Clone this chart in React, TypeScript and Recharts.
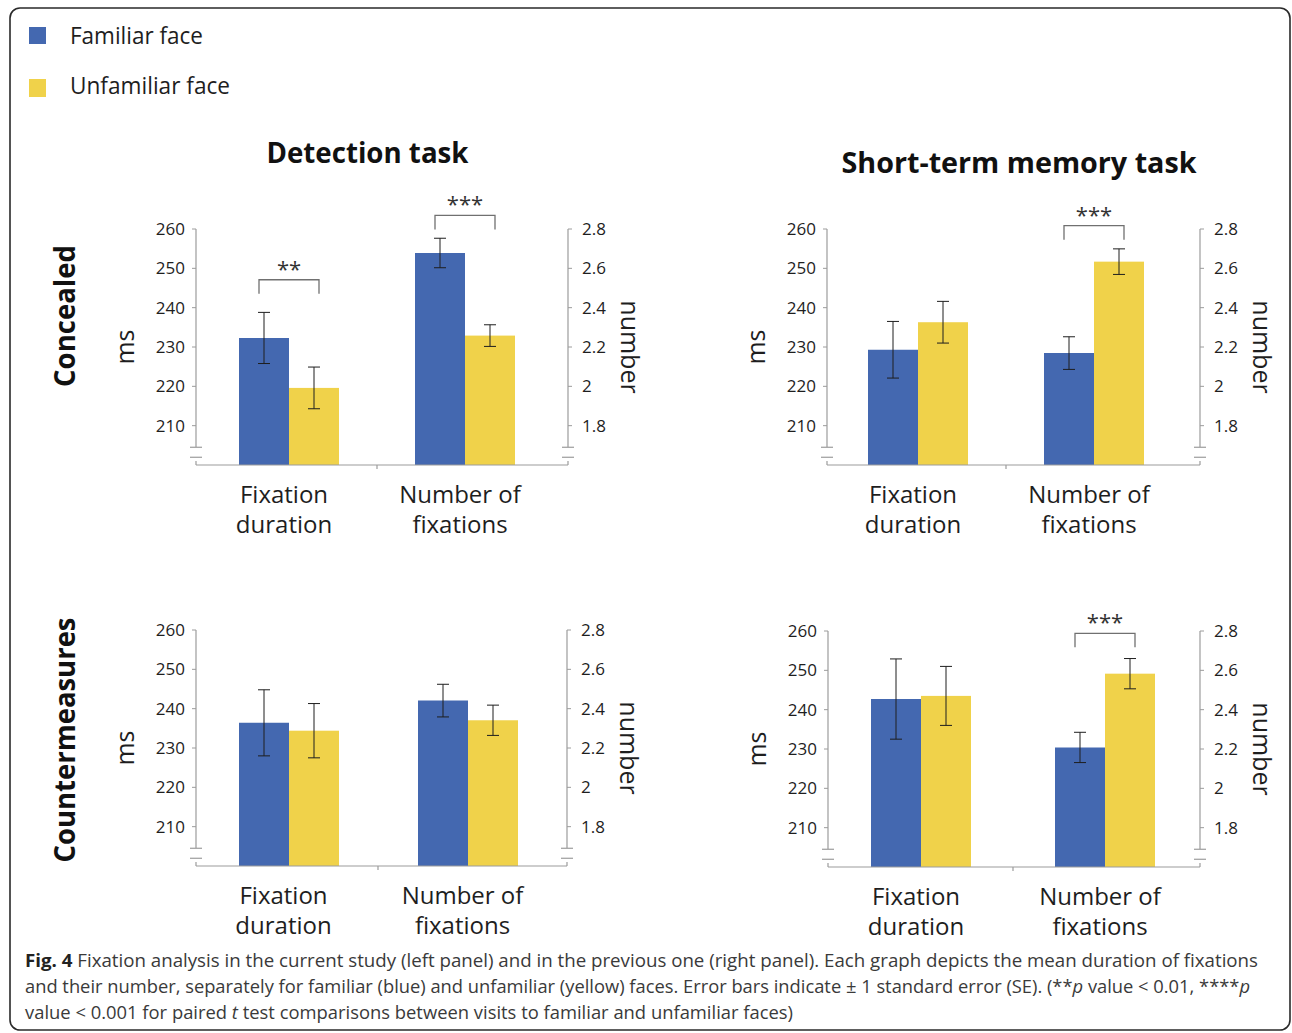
import { BarChart, Bar, XAxis, YAxis, ErrorBar } from "recharts";

const FONT = "'Open Sans', 'DejaVu Sans', sans-serif";
const BLUE = "#4468B0";
const YELLOW = "#F0D24A";
const AXIS = "#9c9c9c";
const INK = "#1e1e1e";

const CATEGORIES = ["Fixation duration", "Number of fixations"];
const SERIES = ["Familiar face", "Unfamiliar face"];
const TASKS = ["Detection task", "Short-term memory task"];
const CONDITIONS = ["Concealed", "Countermeasures"];

const MS_DOMAIN = [200, 260];
const MS_TICKS = [210, 220, 230, 240, 250, 260];
const NUM_DOMAIN = [1.6, 2.8];
const NUM_TICKS = [1.8, 2, 2.2, 2.4, 2.6, 2.8];

// every pair is [familiar, unfamiliar]
// Detection task — concealed
const DET_CONC_MS = [232.3, 219.6];
const DET_CONC_MS_SE = [6.5, 5.3];
const DET_CONC_NUM = [2.678, 2.258];
const DET_CONC_NUM_SE = [0.075, 0.055];
const DET_CONC_SIG = ["**", "***"];
const DET_CONC_SIG_AT = [247.1, 2.869];

// Short-term memory task — concealed
const STM_CONC_MS = [229.3, 236.3];
const STM_CONC_MS_SE = [7.2, 5.3];
const STM_CONC_NUM = [2.169, 2.634];
const STM_CONC_NUM_SE = [0.083, 0.065];
const STM_CONC_SIG = ["", "***"];
const STM_CONC_SIG_AT = [null, 2.817];

// Detection task — countermeasures
const DET_CM_MS = [236.4, 234.4];
const DET_CM_MS_SE = [8.4, 6.9];
const DET_CM_NUM = [2.441, 2.341];
const DET_CM_NUM_SE = [0.083, 0.077];
const DET_CM_SIG = ["", ""];
const DET_CM_SIG_AT = [null, null];

// Short-term memory task — countermeasures
const STM_CM_MS = [242.7, 243.5];
const STM_CM_MS_SE = [10.2, 7.5];
const STM_CM_NUM = [2.208, 2.583];
const STM_CM_NUM_SE = [0.077, 0.077];
const STM_CM_SIG = ["", "***"];
const STM_CM_SIG_AT = [null, 2.788];

const CHART_W = 560;
const CHART_H = 380;
const LEFT_W = 96;

const PANELS = [
  { key: "det-conc", ms: DET_CONC_MS, msSe: DET_CONC_MS_SE, num: DET_CONC_NUM, numSe: DET_CONC_NUM_SE, sig: DET_CONC_SIG, sigAt: DET_CONC_SIG_AT, left: 100, top: 179, rightW: 92, padL: 5, padR: 15 },
  { key: "stm-conc", ms: STM_CONC_MS, msSe: STM_CONC_MS_SE, num: STM_CONC_NUM, numSe: STM_CONC_NUM_SE, sig: STM_CONC_SIG, sigAt: STM_CONC_SIG_AT, left: 731, top: 179, rightW: 91, padL: 3, padR: 18 },
  { key: "det-cm", ms: DET_CM_MS, msSe: DET_CM_MS_SE, num: DET_CM_NUM, numSe: DET_CM_NUM_SE, sig: DET_CM_SIG, sigAt: DET_CM_SIG_AT, left: 100, top: 580, rightW: 93, padL: 3, padR: 10 },
  { key: "stm-cm", ms: STM_CM_MS, msSe: STM_CM_MS_SE, num: STM_CM_NUM, numSe: STM_CM_NUM_SE, sig: STM_CM_SIG, sigAt: STM_CM_SIG_AT, left: 732, top: 581, rightW: 92, padL: 1, padR: 3 },
];

function buildRows(p: any) {
  return [
    {
      cat: CATEGORIES[0],
      famMs: p.ms[0], unfMs: p.ms[1], famMsSe: p.msSe[0], unfMsSe: p.msSe[1],
      famNum: null, unfNum: null, famNumSe: null, unfNumSe: null,
      sig: p.sig[0], sigAt: p.sigAt[0],
    },
    {
      cat: CATEGORIES[1],
      famMs: null, unfMs: null, famMsSe: null, unfMsSe: null,
      famNum: p.num[0], unfNum: p.num[1], famNumSe: p.numSe[0], unfNumSe: p.numSe[1],
      sig: p.sig[1], sigAt: p.sigAt[1],
    },
  ];
}

// yellow bar + significance bracket spanning both bars of the group
function SigBarShape(props: any) {
  const { x, y, width, height, fill, payload, valueKey, base } = props;
  const v = payload?.[valueKey];
  if (v == null || !height) return null;
  const bar = <rect x={x} y={y} width={width} height={height} fill={fill} />;
  if (!payload.sig || payload.sigAt == null) return bar;
  const ppu = height / (v - base);
  const top = y - (payload.sigAt - v) * ppu;
  const x1 = x - width / 2 - 5;
  const x2 = x + width / 2 + 5;
  return (
    <g>
      {bar}
      <path d={`M${x1},${top + 14}V${top}H${x2}V${top + 14}`} fill="none" stroke="#707070" strokeWidth={1.3} />
      <text x={(x1 + x2) / 2} y={top - 3} textAnchor="middle" fontSize={22} fill="#333" fontFamily={FONT}>
        {payload.sig}
      </text>
    </g>
  );
}

function CategoryTick(props: any) {
  const { x, y, payload, index, halfBand, padL, padR } = props;
  const words = String(payload.value).split(" ");
  const first = words.slice(0, -1).join(" ");
  const second = words[words.length - 1];
  const marks =
    index === 0
      ? [[x - halfBand - padL, -4], [x + halfBand, 4]]
      : [[x + halfBand + padR, -4]];
  const tx = x - 5;
  return (
    <g>
      {marks.map(([mx, dy], i) => (
        <line key={i} x1={mx} x2={mx} y1={y} y2={y + dy} stroke={AXIS} strokeWidth={1.2} />
      ))}
      <text x={tx} y={y + 38} textAnchor="middle" fontSize={24} fill={INK} fontFamily={FONT}>{first}</text>
      <text x={tx} y={y + 68} textAnchor="middle" fontSize={24} fill={INK} fontFamily={FONT}>{second}</text>
    </g>
  );
}

function ValueTick(props: any) {
  const { x, y, payload, side, lowest, gap } = props;
  const axisX = side === "left" ? x + gap : x - gap;
  return (
    <g>
      <text x={x} y={y} dy="0.36em" textAnchor={side === "left" ? "end" : "start"} fontSize={17} fill={INK} fontFamily={FONT}>
        {payload.value}
      </text>
      {payload.value === lowest &&
        [21.6, 31.6].map((d) => (
          <line key={d} x1={axisX - 6} x2={axisX + 6} y1={y + d} y2={y + d} stroke={AXIS} strokeWidth={1.2} />
        ))}
    </g>
  );
}

function AxisTitle(props: any) {
  const { viewBox, text, dx, angle } = props;
  if (!viewBox) return null;
  const cx = viewBox.x + dx;
  const cy = viewBox.y + viewBox.height / 2;
  return (
    <text x={cx} y={cy} transform={`rotate(${angle} ${cx} ${cy})`} textAnchor="middle" fontSize={25} fill={INK} fontFamily={FONT}>
      {text}
    </text>
  );
}

function Panel({ cfg }: { cfg: any }) {
  const rows = buildRows(cfg);
  const plotW = CHART_W - LEFT_W - cfg.rightW;
  const halfBand = (plotW - cfg.padL - cfg.padR) / 4;
  return (
    <div style={{ position: "absolute", left: cfg.left, top: cfg.top }}>
      <BarChart width={CHART_W} height={CHART_H} data={rows} barGap={0} margin={{ top: 50, right: 0, bottom: 14, left: 0 }}>
        <XAxis
          xAxisId="ms"
          dataKey="cat"
          height={80}
          interval={0}
          padding={{ left: cfg.padL, right: cfg.padR }}
          axisLine={{ stroke: AXIS, strokeWidth: 1.2 }}
          tickLine={false}
          tickSize={0}
          tickMargin={0}
          tick={(p: any) => <CategoryTick {...p} halfBand={halfBand} padL={cfg.padL} padR={cfg.padR} />}
        />
        <XAxis xAxisId="num" dataKey="cat" hide padding={{ left: cfg.padL, right: cfg.padR }} />
        <YAxis
          yAxisId="ms"
          orientation="left"
          type="number"
          width={LEFT_W}
          domain={MS_DOMAIN}
          ticks={MS_TICKS}
          interval={0}
          tickSize={4}
          tickMargin={7}
          tickLine={{ stroke: AXIS }}
          axisLine={{ stroke: AXIS, strokeWidth: 1.2, strokeDasharray: "218 400" }}
          tick={(p: any) => <ValueTick {...p} side="left" lowest={MS_TICKS[0]} gap={11} />}
          label={(p: any) => <AxisTitle {...p} text="ms" dx={34} angle={-90} />}
        />
        <YAxis
          yAxisId="num"
          orientation="right"
          type="number"
          width={cfg.rightW}
          domain={NUM_DOMAIN}
          ticks={NUM_TICKS}
          interval={0}
          tickSize={4}
          tickMargin={10}
          tickLine={{ stroke: AXIS }}
          axisLine={{ stroke: AXIS, strokeWidth: 1.2, strokeDasharray: "218 400" }}
          tick={(p: any) => <ValueTick {...p} side="right" lowest={NUM_TICKS[0]} gap={14} />}
          label={(p: any) => <AxisTitle {...p} text="number" dx={53} angle={90} />}
        />
        <Bar xAxisId="ms" yAxisId="ms" dataKey="famMs" name={SERIES[0]} fill={BLUE} barSize={50} isAnimationActive={false}>
          <ErrorBar dataKey="famMsSe" width={6} stroke={INK} strokeWidth={1} />
        </Bar>
        <Bar
          xAxisId="ms"
          yAxisId="ms"
          dataKey="unfMs"
          name={SERIES[1]}
          fill={YELLOW}
          barSize={50}
          isAnimationActive={false}
          shape={(p: any) => <SigBarShape {...p} valueKey="unfMs" base={MS_DOMAIN[0]} />}
        >
          <ErrorBar dataKey="unfMsSe" width={6} stroke={INK} strokeWidth={1} />
        </Bar>
        <Bar xAxisId="num" yAxisId="num" dataKey="famNum" name={SERIES[0]} fill={BLUE} barSize={50} isAnimationActive={false}>
          <ErrorBar dataKey="famNumSe" width={6} stroke={INK} strokeWidth={1} />
        </Bar>
        <Bar
          xAxisId="num"
          yAxisId="num"
          dataKey="unfNum"
          name={SERIES[1]}
          fill={YELLOW}
          barSize={50}
          isAnimationActive={false}
          shape={(p: any) => <SigBarShape {...p} valueKey="unfNum" base={NUM_DOMAIN[0]} />}
        >
          <ErrorBar dataKey="unfNumSe" width={6} stroke={INK} strokeWidth={1} />
        </Bar>
      </BarChart>
    </div>
  );
}

export default function App() {
  const cap = "#3a3a3a";
  return (
    <div style={{ position: "relative", width: 1292, height: 1033, background: "#fff", overflow: "hidden", fontFamily: FONT }}>
      <style>{"body{margin:0}"}</style>
      <svg width={1292} height={1033} style={{ position: "absolute", left: 0, top: 0 }} fontFamily={FONT}>
        <rect x={10} y={8} width={1280} height={1022} rx={10} fill="none" stroke="#2a2a2a" strokeWidth={1.6} />

        {/* legend */}
        <rect x={29} y={27} width={17} height={17} fill={BLUE} />
        <text x={70} y={44} fontSize={23} fill={INK} textLength={133} lengthAdjust="spacingAndGlyphs">{SERIES[0]}</text>
        <rect x={29} y={79} width={17} height={18} fill={YELLOW} />
        <text x={70} y={94} fontSize={23} fill={INK} textLength={160} lengthAdjust="spacingAndGlyphs">{SERIES[1]}</text>

        {/* column titles */}
        <text x={367.5} y={163} textAnchor="middle" fontSize={28} fontWeight={700} fill="#111" textLength={202} lengthAdjust="spacingAndGlyphs">{TASKS[0]}</text>
        <text x={1019} y={173} textAnchor="middle" fontSize={28} fontWeight={700} fill="#111" textLength={355} lengthAdjust="spacingAndGlyphs">{TASKS[1]}</text>

        {/* row titles */}
        <text x={75} y={316} transform="rotate(-90 75 316)" textAnchor="middle" fontSize={29} fontWeight={700} fill="#111" textLength={142} lengthAdjust="spacingAndGlyphs">{CONDITIONS[0]}</text>
        <text x={75} y={740} transform="rotate(-90 75 740)" textAnchor="middle" fontSize={29} fontWeight={700} fill="#111" textLength={245} lengthAdjust="spacingAndGlyphs">{CONDITIONS[1]}</text>

        {/* caption */}
        <text x={25} y={967} fontSize={18} fill={cap} textLength={1233} lengthAdjust="spacingAndGlyphs">
          <tspan fontWeight={700} fill="#222">Fig. 4</tspan>
          {" Fixation analysis in the current study (left panel) and in the previous one (right panel). Each graph depicts the mean duration of fixations"}
        </text>
        <text x={25} y={993} fontSize={18} fill={cap} textLength={1225} lengthAdjust="spacingAndGlyphs">
          {"and their number, separately for familiar (blue) and unfamiliar (yellow) faces. Error bars indicate \u00b1 1 standard error (SE). (**"}
          <tspan fontStyle="italic">p</tspan>
          {" value < 0.01, ****"}
          <tspan fontStyle="italic">p</tspan>
        </text>
        <text x={25} y={1019} fontSize={18} fill={cap} textLength={768} lengthAdjust="spacingAndGlyphs">
          {"value < 0.001 for paired "}
          <tspan fontStyle="italic">t</tspan>
          {" test comparisons between visits to familiar and unfamiliar faces)"}
        </text>
      </svg>
      {PANELS.map((p) => (
        <Panel key={p.key} cfg={p} />
      ))}
    </div>
  );
}
